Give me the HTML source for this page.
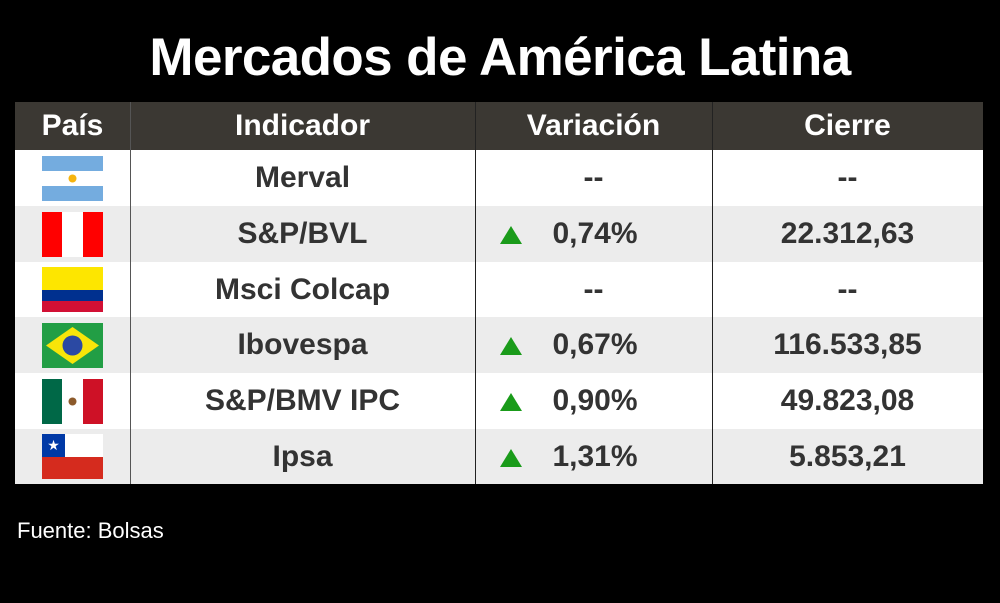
<!DOCTYPE html>
<html><head><meta charset="utf-8"><style>
body{margin:0;background:#000;width:1000px;height:603px;overflow:hidden;font-family:"Liberation Sans",sans-serif;position:relative}
.t{position:absolute;left:0;width:1000px;top:27px;text-align:center;color:#fff;font-weight:bold;font-size:53px;letter-spacing:-0.6px}
.tbl{position:absolute;left:15px;top:102px;width:968px;height:382px;background:#fff}
.hd{position:absolute;left:0;top:0;width:968px;height:48px;background:#3b3833}
.row{position:absolute;left:0;width:968px}
.c{position:absolute;top:0;height:100%;display:flex;align-items:center;justify-content:center;font-weight:bold;font-size:30px;color:#333;letter-spacing:0}
.hd .c{color:#fff}
.vl{position:absolute;top:0;width:1px;height:382px;background:#555}
.flag{position:absolute;left:27px;width:61px;height:45px}
.tri{position:absolute;left:485px;width:0;height:0;border-left:11px solid transparent;border-right:11px solid transparent;border-bottom:18px solid #1a9b1a}
.foot{position:absolute;left:17px;top:518px;color:#fff;font-size:22px;letter-spacing:0}
</style></head><body>
<div class="t">Mercados de América Latina</div>
<div class="tbl">
<div class="hd">
<div class="c" style="left:0;width:115px">País</div>
<div class="c" style="left:115px;width:345px">Indicador</div>
<div class="c" style="left:460px;width:237px">Variación</div>
<div class="c" style="left:697px;width:271px">Cierre</div>
</div>
<div id="rows"></div>
<div class="vl" style="left:115px"></div>
<div class="vl" style="left:460px;background:#222"></div>
<div class="vl" style="left:697px;background:#222"></div>
</div>
<div class="foot">Fuente: Bolsas</div>
<script>
const names=["Merval","S&P/BVL","Msci Colcap","Ibovespa","S&P/BMV IPC","Ipsa"];
const variations=["--","0,74%","--","0,67%","0,90%","1,31%"];
const closes=["--","22.312,63","--","116.533,85","49.823,08","5.853,21"];
const flags=[
'<svg width="61" height="45"><rect width="61" height="15" fill="#74acdf"/><rect y="15" width="61" height="15" fill="#fff"/><rect y="30" width="61" height="15" fill="#74acdf"/><circle cx="30.5" cy="22.5" r="4" fill="#f6b40e"/></svg>',
'<svg width="61" height="45"><rect width="20" height="45" fill="#f00"/><rect x="20" width="21" height="45" fill="#fff"/><rect x="41" width="20" height="45" fill="#f00"/></svg>',
'<svg width="61" height="45"><rect width="61" height="23" fill="#fde600"/><rect y="23" width="61" height="11" fill="#00308f"/><rect y="34" width="61" height="11" fill="#d21034"/></svg>',
'<svg width="61" height="45"><rect width="61" height="45" fill="#229e45"/><polygon points="30.5,4 57,22.5 30.5,41 4,22.5" fill="#f8e509"/><circle cx="30.5" cy="22.5" r="10" fill="#2b49a3"/></svg>',
'<svg width="61" height="45"><rect width="20" height="45" fill="#006847"/><rect x="20" width="21" height="45" fill="#fff"/><rect x="41" width="20" height="45" fill="#ce1126"/><circle cx="30.5" cy="22.5" r="4" fill="#8c5a2b"/></svg>',
'<svg width="61" height="45"><rect width="61" height="23" fill="#fff"/><rect width="23" height="23" fill="#0039a6"/><rect y="23" width="61" height="22" fill="#d52b1e"/><text x="11.5" y="16" font-size="14" fill="#fff" text-anchor="middle">★</text></svg>'];
const tops=[48,104,160,215,271,327],hs=[56,56,55,56,56,55];
const R=document.getElementById('rows');
names.forEach((n,i)=>{
 const r=document.createElement('div');r.className='row';
 
 
 r.style.top=tops[i]+'px';r.style.height=hs[i]+'px';r.style.background=i%2?'#ececec':'#fff';
 const up=variations[i]!=='--';
 r.innerHTML='<div class="flag" style="top:'+((hs[i]-45)/2)+'px">'+flags[i]+'</div>'+
 '<div class="c" style="left:115px;width:345px"></div>'+
 (up?'<div class="tri" style="top:'+(hs[i]/2-8)+'px"></div>':'')+
 '<div class="c" style="left:'+(up?500:460)+'px;width:'+(up?160:237)+'px"></div>'+
 '<div class="c" style="left:697px;width:271px"></div>';
 const cs=r.querySelectorAll('.c');
 cs[0].textContent=n;cs[1].textContent=variations[i];cs[2].textContent=closes[i];
 R.appendChild(r);
});
</script>
</body></html>
